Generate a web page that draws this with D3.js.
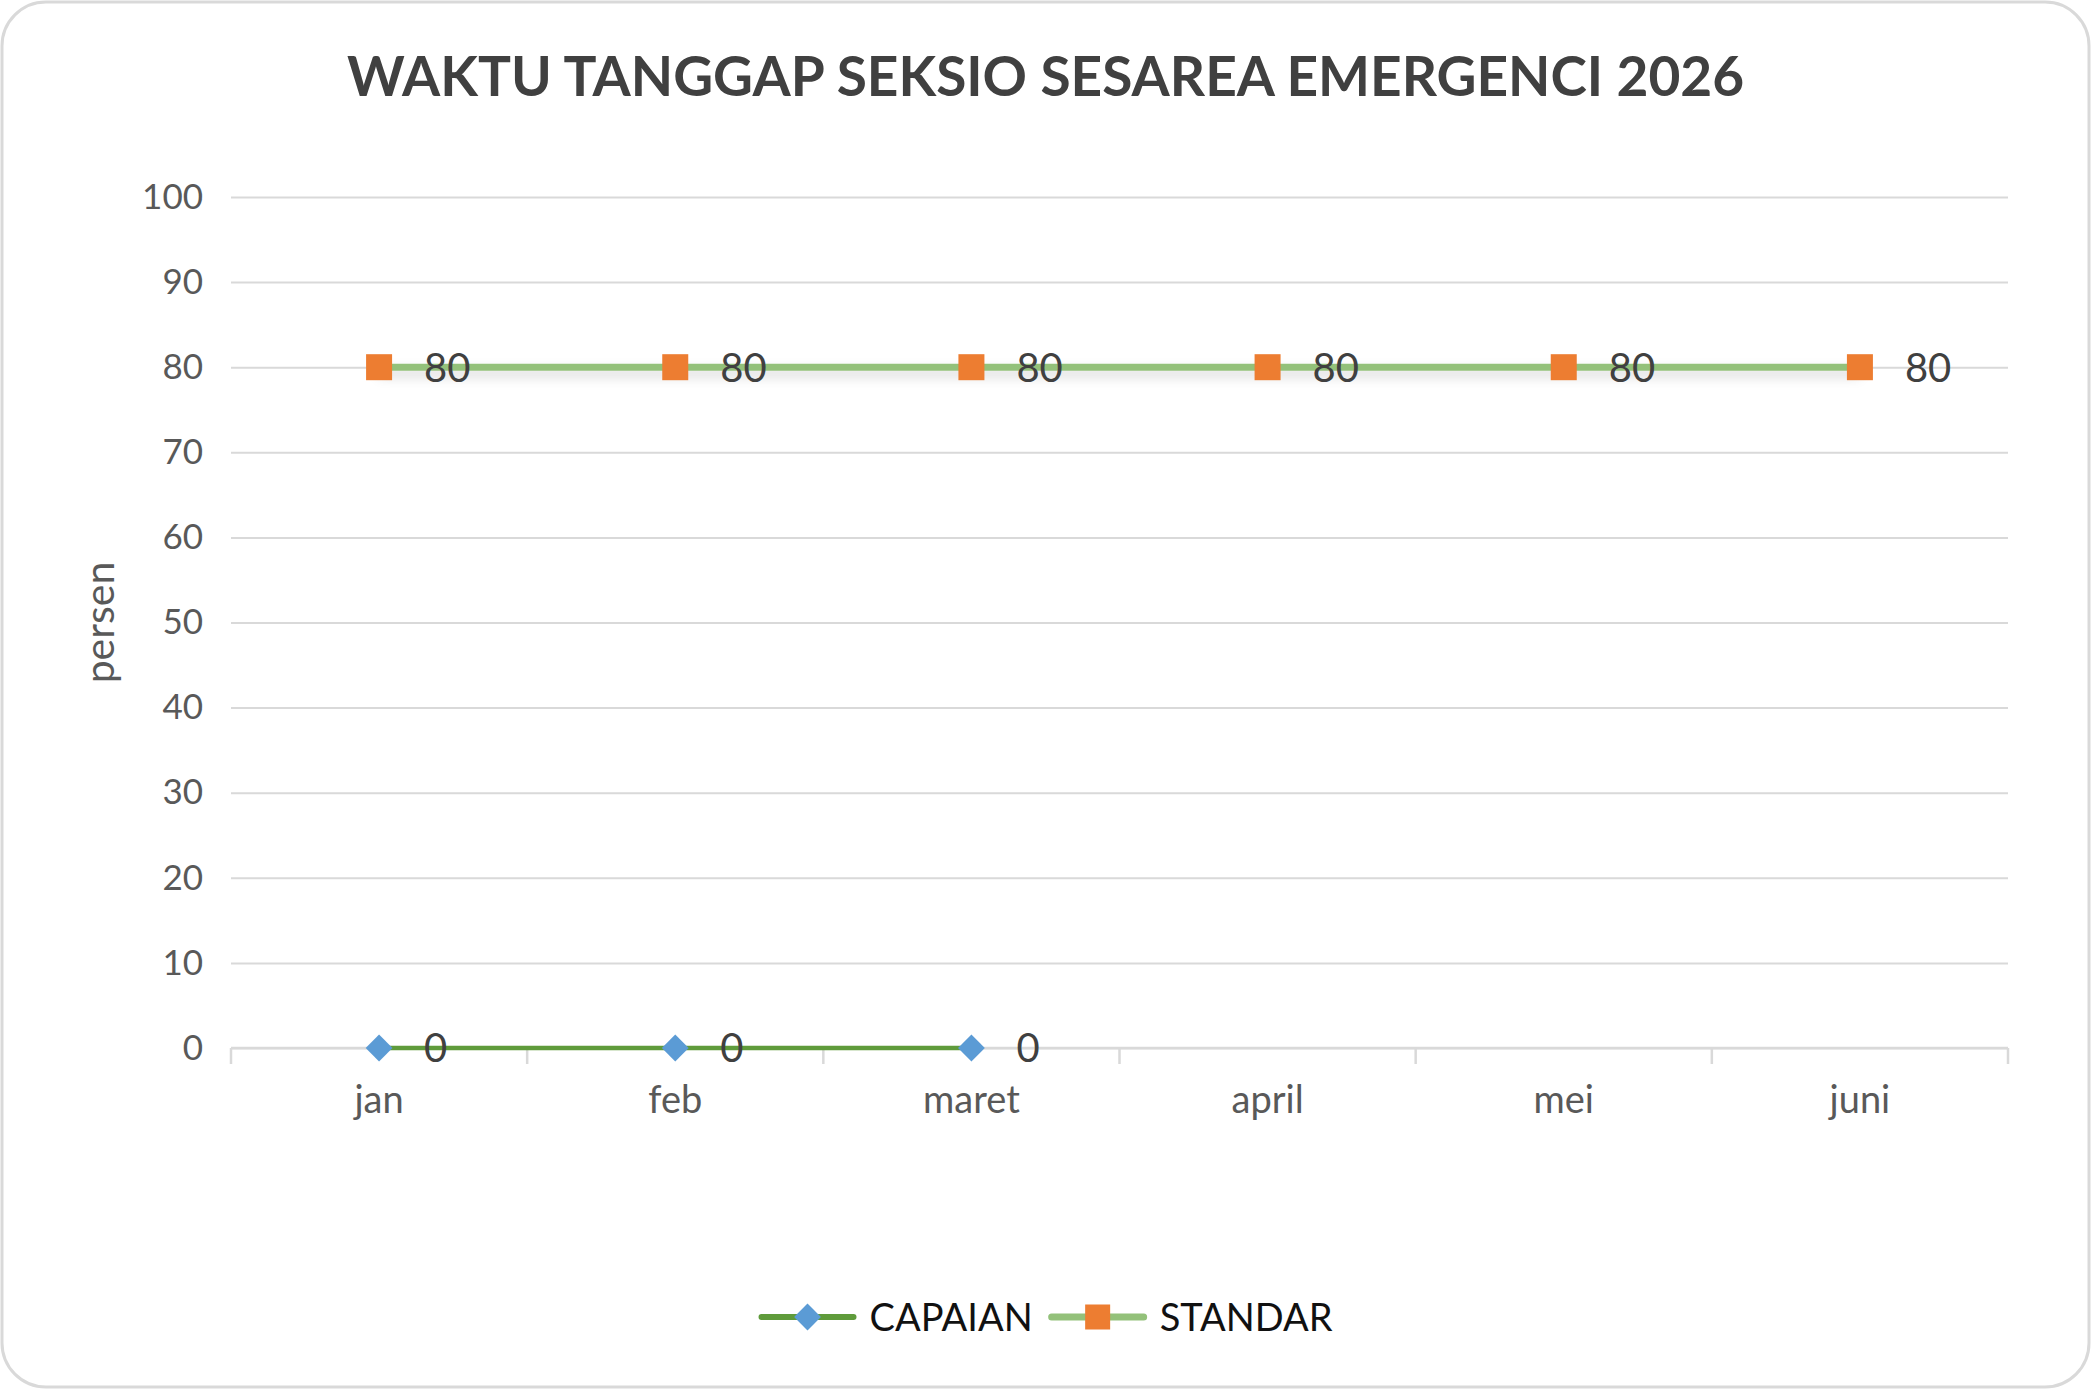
<!DOCTYPE html>
<html>
<head>
<meta charset="utf-8">
<script src="https://cdn.jsdelivr.net/npm/d3@7"></script>
<style>
    body { margin: 0; background: #fff; }
    text { font-family: Lato, "Open Sans", sans-serif; }
</style>
</head>
<body>
<svg id="chart" width="2091" height="1389"></svg>
<script>
const months = ["jan", "feb", "maret", "april", "mei", "juni"];
const capaian = [0, 0, 0, null, null, null];
const standar = [80, 80, 80, 80, 80, 80];
const yTickValues = [0, 10, 20, 30, 40, 50, 60, 70, 80, 90, 100];
const chartTitle = "WAKTU TANGGAP SEKSIO SESAREA EMERGENCI 2026";
const yTitle = "persen";

const W = 2091, H = 1389;
const plot = {left: 231, right: 2008, top: 197, bottom: 1048};

const svg = d3.select("#chart");

// drop shadow for the STANDAR line (user space, the path is flat)
const defs = svg.append("defs");
defs.append("filter")
    .attr("id", "shadow")
    .attr("filterUnits", "userSpaceOnUse")
    .attr("x", 0).attr("y", 0)
    .attr("width", W).attr("height", H)
    .append("feDropShadow")
    .attr("dx", 0).attr("dy", 6)
    .attr("stdDeviation", 6)
    .attr("flood-color", "#000")
    .attr("flood-opacity", 0.16);

// outer frame
svg.append("rect")
    .attr("x", 2).attr("y", 2)
    .attr("width", W - 4).attr("height", H - 4)
    .attr("rx", 44).attr("ry", 44)
    .attr("fill", "#fff")
    .attr("stroke", "#d9d9d9")
    .attr("stroke-width", 3);

svg.append("text")
    .attr("x", W / 2)
    .attr("y", 96)
    .attr("text-anchor", "middle")
    .attr("font-size", 55)
    .attr("font-weight", 700)
    .attr("fill", "#404040")
    .text(chartTitle);

const x = d3.scaleBand().domain(months).range([plot.left, plot.right]);
const y = d3.scaleLinear().domain([0, 100]).range([plot.bottom, plot.top]);

// gridlines + y labels
const yAxis = svg.append("g")
    .attr("transform", `translate(${plot.left},0)`)
    .call(d3.axisLeft(y).tickValues(yTickValues).tickSize(-(plot.right - plot.left)).tickPadding(28));
yAxis.select(".domain").remove();
yAxis.selectAll(".tick line")
    .attr("stroke", "#d9d9d9")
    .attr("stroke-width", 2);
yAxis.selectAll(".tick text")
    .attr("font-size", 35)
    .attr("fill", "#595959");

svg.append("text")
    .attr("transform", `translate(100,${(plot.top + plot.bottom) / 2}) rotate(-90)`)
    .attr("text-anchor", "middle")
    .attr("dy", "0.35em")
    .attr("font-size", 41)
    .attr("fill", "#595959")
    .text(yTitle);

// x axis
svg.append("line")
    .attr("x1", plot.left).attr("x2", plot.right)
    .attr("y1", y(0)).attr("y2", y(0))
    .attr("stroke", "#d9d9d9")
    .attr("stroke-width", 2.5);

const boundaries = months.map(m => x(m)).concat([x.range()[1]]);
svg.append("g").selectAll("line")
    .data(boundaries)
    .enter()
    .append("line")
    .attr("x1", d => d).attr("x2", d => d)
    .attr("y1", y(0)).attr("y2", y(0) + 16)
    .attr("stroke", "#d9d9d9")
    .attr("stroke-width", 2.5);

const xAxis = svg.append("g")
    .attr("transform", `translate(0,${y(0)})`)
    .call(d3.axisBottom(x).tickSize(0).tickPadding(38));
xAxis.select(".domain").remove();
xAxis.selectAll(".tick text")
    .attr("font-size", 38)
    .attr("fill", "#595959");

// series
const cx = m => x(m) + x.bandwidth() / 2;
const line = d3.line()
    .defined(d => d.v !== null)
    .x(d => cx(d.m))
    .y(d => y(d.v));

const standarData = months.map((m, i) => ({m: m, v: standar[i]}));
const capaianData = months.map((m, i) => ({m: m, v: capaian[i]}));

svg.append("path")
    .datum(standarData)
    .attr("d", line)
    .attr("fill", "none")
    .attr("stroke", "#93c17a")
    .attr("stroke-width", 7)
    .attr("filter", "url(#shadow)");

svg.append("path")
    .datum(capaianData)
    .attr("d", line)
    .attr("fill", "none")
    .attr("stroke", "#5f9b3b")
    .attr("stroke-width", 4.5);

const squareSize = 26;
svg.append("g").selectAll("rect")
    .data(standarData)
    .enter()
    .append("rect")
    .attr("x", d => cx(d.m) - squareSize / 2)
    .attr("y", d => y(d.v) - squareSize / 2)
    .attr("width", squareSize)
    .attr("height", squareSize)
    .attr("fill", "#ed7d31");

const diamond = d3.symbol().type(d3.symbolSquare).size(360);
svg.append("g").selectAll("path")
    .data(capaianData.filter(d => d.v !== null))
    .enter()
    .append("path")
    .attr("d", diamond)
    .attr("transform", d => `translate(${cx(d.m)},${y(d.v)}) rotate(45)`)
    .attr("fill", "#5b9bd5");

// data labels
const labelData = standarData.concat(capaianData.filter(d => d.v !== null));
svg.append("g").selectAll("text")
    .data(labelData)
    .enter()
    .append("text")
    .attr("x", d => cx(d.m) + 45)
    .attr("y", d => y(d.v))
    .attr("dy", "0.36em")
    .attr("font-size", 40)
    .attr("fill", "#404040")
    .text(d => d.v);

// legend
const legendItems = [
    {name: "CAPAIAN", color: "#5f9b3b", width: 6, marker: "diamond"},
    {name: "STANDAR", color: "#93c17a", width: 7, marker: "square"}
];
const legend = svg.append("g");
const legendY = 1317;
let lx = 0;
legendItems.forEach(item => {
    const g = legend.append("g").attr("transform", `translate(${lx},0)`);
    g.append("line")
        .attr("x1", 3).attr("x2", 95)
        .attr("y1", legendY).attr("y2", legendY)
        .attr("stroke", item.color)
        .attr("stroke-width", item.width)
        .attr("stroke-linecap", "round");
    if (item.marker === "diamond") {
        g.append("path")
            .attr("d", diamond)
            .attr("transform", `translate(49,${legendY}) rotate(45)`)
            .attr("fill", "#5b9bd5");
    } else {
        g.append("rect")
            .attr("x", 49 - 12.5).attr("y", legendY - 12.5)
            .attr("width", 25).attr("height", 25)
            .attr("fill", "#ed7d31");
    }
    const t = g.append("text")
        .attr("x", 111)
        .attr("y", legendY)
        .attr("dy", "0.36em")
        .attr("font-size", 38)
        .attr("fill", "#111")
        .text(item.name);
    lx += 111 + t.node().getComputedTextLength() + 16;
});
const legendWidth = lx - 16;
legend.attr("transform", `translate(${W / 2 - legendWidth / 2},0)`);
</script>
</body>
</html>
